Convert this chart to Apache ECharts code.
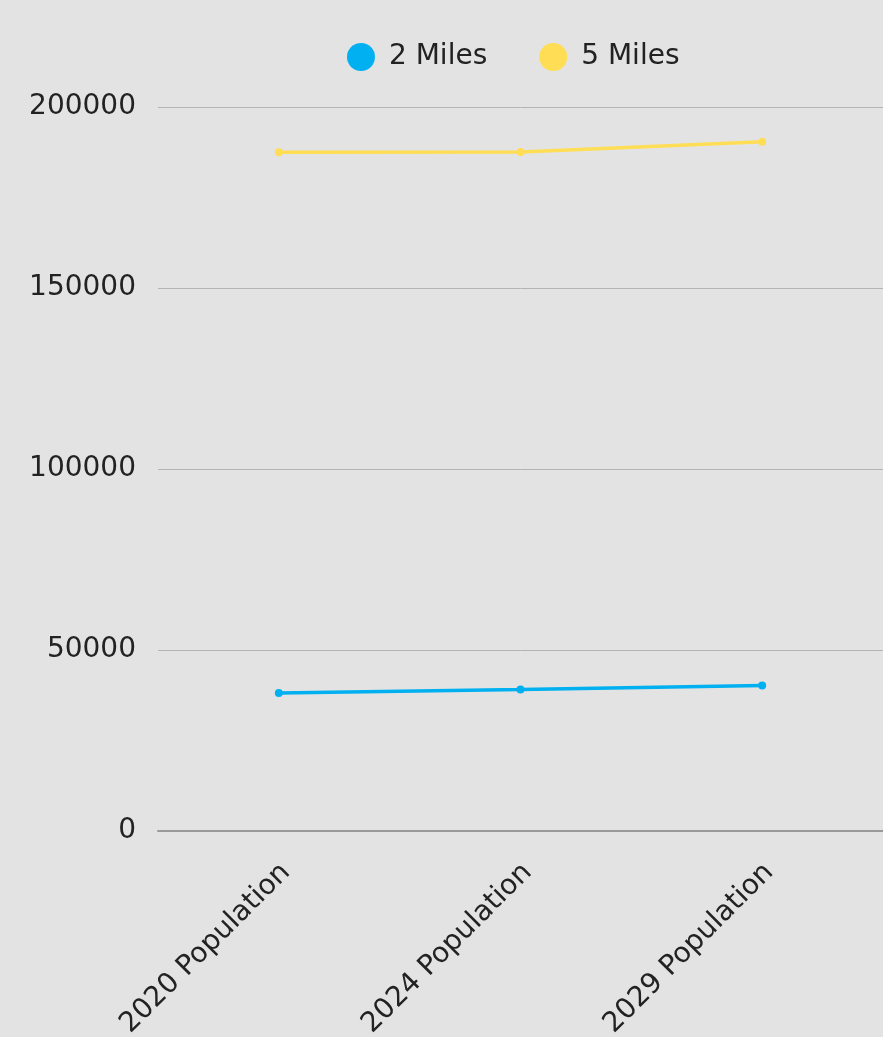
<!DOCTYPE html>
<html>
<head>
<meta charset="utf-8">
<script src="https://cdn.jsdelivr.net/npm/echarts@6/dist/echarts.min.js"></script>
<style>
html,body{margin:0;padding:0;background:#e3e3e3;}
#main{width:883px;height:1037px;}
</style>
</head>
<body>
<div id="main"></div>
<script>
const categories = ["2020 Population", "2024 Population", "2029 Population"];
const miles2 = [38100, 39100, 40200];
const miles5 = [187500, 187600, 190400];
const yTicks = [0, 50000, 100000, 150000, 200000];

const FONT = "'DejaVu Sans', sans-serif";
const chart = echarts.init(document.getElementById('main'));
chart.setOption({
  backgroundColor: '#e3e3e3',
  textStyle: { fontFamily: FONT },
  legend: {
    top: 38,
    left: 342,
    itemWidth: 28,
    itemHeight: 28,
    itemGap: 52,
    icon: 'circle',
    textStyle: { fontSize: 28, color: '#222', fontFamily: FONT, padding: [0, 0, 0, 9] },
    data: ['2 Miles', '5 Miles']
  },
  grid: { left: 158, right: 0, top: 107, bottom: 206, containLabel: false, outerBoundsMode: 'none' },
  xAxis: {
    type: 'category',
    data: categories,
    boundaryGap: true,
    axisLine: { show: true, lineStyle: { color: '#9a9a9a', width: 2 } },
    axisTick: { show: false },
    axisLabel: { rotate: 45, fontSize: 28, color: '#222', margin: 44, padding: [0, -10, 0, 0], fontFamily: FONT }
  },
  yAxis: {
    type: 'value',
    min: yTicks[0],
    max: yTicks[yTicks.length - 1],
    interval: 50000,
    axisLine: { show: false },
    axisTick: { show: false },
    splitLine: { lineStyle: { color: '#b4b4b4', width: 1 } },
    axisLabel: { fontSize: 28, color: '#222', margin: 22, fontFamily: FONT, formatter: function (v) { return String(v); } }
  },
  series: [
    {
      name: '2 Miles', type: 'line', data: miles2,
      color: '#00b0f0', symbol: 'circle', symbolSize: 8,
      lineStyle: { width: 3.5 }
    },
    {
      name: '5 Miles', type: 'line', data: miles5,
      color: '#ffdd55', symbol: 'circle', symbolSize: 8,
      lineStyle: { width: 3.5 }
    }
  ]
});
</script>
</body>
</html>
